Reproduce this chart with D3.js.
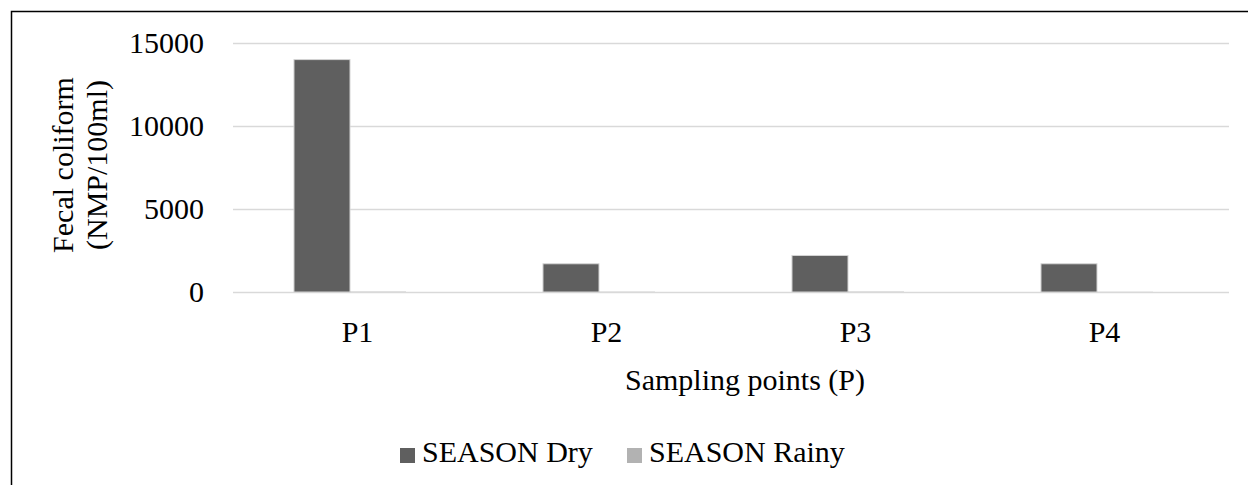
<!DOCTYPE html>
<html>
<head>
<meta charset="utf-8">
<script src="https://cdn.jsdelivr.net/npm/d3@7"></script>
<style>
  body { margin: 0; background: #fff; }
  text { font-family: "Liberation Serif", "Times New Roman", serif; fill: #000; }
</style>
</head>
<body>
<script>
// chart values
var points = ["P1", "P2", "P3", "P4"];
var seasons = ["SEASON Dry", "SEASON Rainy"];
var dryValues = [14000, 1700, 2200, 1700];
var rainyValues = [20, 15, 20, 10];
var yTicks = [0, 5000, 10000, 15000];
var colors = ["#5f5f5f", "#b2b2b2"];

var width = 1248,
    height = 485,
    fontSize = 30;

var svg = d3.select("body")
    .append("svg")
    .attr("width", width)
    .attr("height", height);

// outer frame (runs off right and bottom edges like the source)
svg.append("rect")
    .attr("x", 11.5)
    .attr("y", 11.5)
    .attr("width", 1300)
    .attr("height", 600)
    .attr("fill", "none")
    .attr("stroke", "#000")
    .attr("stroke-width", 1.5);

var plotLeft = 233, plotRight = 1229;

var x0 = d3.scaleBand()
    .domain(points)
    .range([plotLeft, plotRight]);

var y = d3.scaleLinear()
    .domain([0, 15000])
    .range([292, 43]);

// bars sit slightly left of band centre, as in the source
var groupWidth = x0.bandwidth() * 0.45;
var x1 = d3.scaleBand()
    .domain(seasons)
    .range([0, groupWidth]);
var groupShift = (x0.bandwidth() - groupWidth) / 2 - 7.5;

// gridlines + y labels
var yAxis = d3.axisLeft(y)
    .tickValues(yTicks)
    .tickSize(-(plotRight - plotLeft))
    .tickFormat(d3.format("d"))
    .tickPadding(29);

var gy = svg.append("g")
    .attr("transform", "translate(" + plotLeft + ",0)")
    .call(yAxis);
gy.select(".domain").remove();
gy.selectAll(".tick line")
    .attr("stroke", "#d9d9d9")
    .attr("stroke-width", 1.5);
gy.selectAll(".tick text")
    .attr("font-size", fontSize)
    .attr("font-family", "Liberation Serif");

// bars
var rows = points.map(function(p, i){
    return { point: p, values: [dryValues[i], rainyValues[i]] };
});

var groups = svg.selectAll(".grp")
    .data(rows)
    .enter()
    .append("g")
    .attr("class", "grp")
    .attr("transform", function(d){
        return "translate(" + (x0(d.point) + groupShift) + ",0)";
    });

groups.selectAll("rect")
    .data(function(d){ return d.values; })
    .enter()
    .append("rect")
    .attr("x", function(d, i){ return x1(seasons[i]); })
    .attr("width", x1.bandwidth())
    .attr("y", function(d){ return y(d); })
    .attr("height", function(d){ return y(0) - y(d); })
    .attr("fill", function(d, i){ return colors[i]; })
    .attr("stroke", function(d, i){ return i == 0 ? "#d4d4d4" : "none"; })
    .attr("stroke-width", 1);

// x axis labels
var xAxis = d3.axisBottom(x0)
    .tickSize(0)
    .tickPadding(29);
var gx = svg.append("g")
    .attr("transform", "translate(0," + y(0) + ")")
    .call(xAxis);
gx.select(".domain").remove();
gx.selectAll(".tick text")
    .attr("font-size", fontSize)
    .attr("font-family", "Liberation Serif");

// axis titles
svg.append("text")
    .attr("x", 745)
    .attr("y", 390)
    .attr("text-anchor", "middle")
    .attr("font-size", fontSize)
    .text("Sampling points (P)");

var yTitle = svg.append("text")
    .attr("transform", "translate(0,165) rotate(-90)")
    .attr("text-anchor", "middle")
    .attr("font-size", fontSize);
yTitle.append("tspan").attr("x", 0).attr("y", 73).text("Fecal coliform");
yTitle.append("tspan").attr("x", 0).attr("y", 107).text("(NMP/100ml)");

// legend
var legendX = [400, 627];
var legend = svg.selectAll(".leg")
    .data(seasons)
    .enter()
    .append("g")
    .attr("class", "leg")
    .attr("transform", function(d, i){
        return "translate(" + legendX[i] + ",462)";
    });
legend.append("rect")
    .attr("x", 0)
    .attr("y", -14)
    .attr("width", 15)
    .attr("height", 15)
    .attr("fill", function(d, i){ return colors[i]; });
legend.append("text")
    .attr("x", 22)
    .attr("y", 0)
    .attr("font-size", fontSize)
    .text(function(d){ return d; });
</script>
</body>
</html>
